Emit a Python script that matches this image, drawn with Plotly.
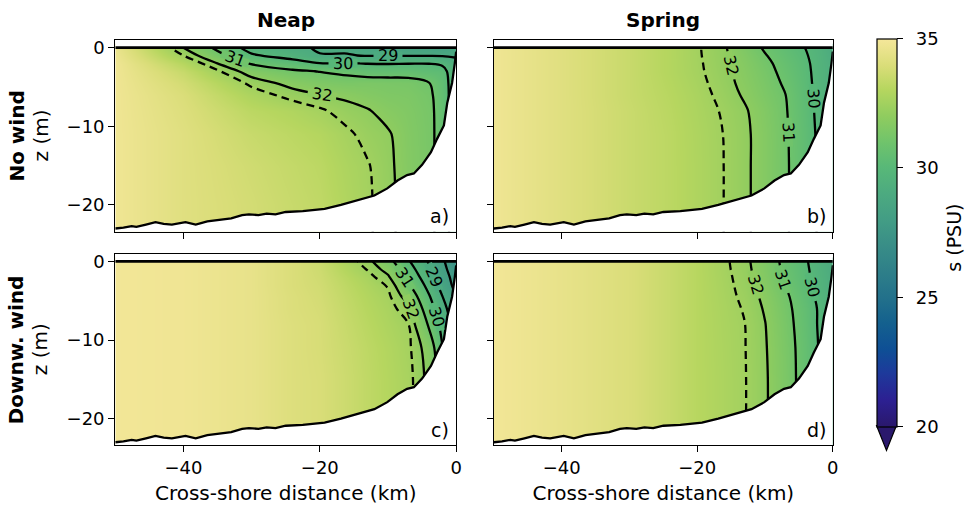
import math
import numpy as np
import plotly.graph_objects as go

# ---------------------------------------------------------------------------
# Data: salinity sections (PSU) on a cross-shore / depth grid
# ---------------------------------------------------------------------------
DIST_KM = [-50, -40, -30, -24, -20, -16, -13, -10, -7, -4, -2, 0]
DEPTH_M = [0, -1, -2, -3, -4.5, -6, -8, -11, -15, -20, -24]

# one row per depth in DEPTH_M, one value per distance in DIST_KM
SAL_NEAP_NOWIND = [
    [34.6, 32.0, 29.6, 29.1, 28.95, 28.85, 28.6, 28.5, 28.45, 28.4, 28.3, 28.7],
    [34.7, 32.5, 30.13, 29.6, 29.02, 29.05, 28.95, 28.95, 28.95, 28.95, 28.92, 28.9],
    [34.8, 33.1, 30.89, 30.41, 30.02, 30.05, 29.97, 29.95, 29.97, 29.98, 29.85, 29.25],
    [34.8, 33.5, 31.65, 31.14, 30.97, 30.8, 30.6, 30.6, 30.6, 30.4, 30.3, 29.35],
    [34.8, 33.8, 32.35, 31.76, 31.5, 31.36, 31.4, 31.35, 31.3, 31.03, 30.45, 29.4],
    [34.8, 34.0, 32.8, 32.27, 32.01, 31.85, 31.65, 31.5, 31.45, 31.2, 30.5, 29.4],
    [34.8, 34.1, 33.2, 32.9, 32.6, 32.23, 32.05, 31.75, 31.55, 31.27, 30.55, 29.4],
    [34.8, 34.2, 33.5, 33.2, 33.0, 32.62, 32.3, 32.08, 31.62, 31.3, 30.55, 29.4],
    [34.8, 34.2, 33.7, 33.4, 33.2, 32.8, 32.55, 32.15, 31.66, 31.3, 30.55, 29.4],
    [34.8, 34.2, 33.8, 33.5, 33.3, 32.9, 32.6, 32.2, 31.66, 31.3, 30.55, 29.4],
    [34.8, 34.2, 33.8, 33.5, 33.3, 32.95, 32.6, 32.2, 31.66, 31.3, 30.55, 29.4],
]

SAL_SPRING_NOWIND = [
    [34.8, 34.2, 33.5, 33.0, 32.57, 32.07, 31.48, 30.89, 30.44, 29.98, 29.6, 29.0],
    [34.8, 34.2, 33.5, 33.0, 32.58, 32.10, 31.6, 31.05, 30.56, 30.07, 29.65, 29.1],
    [34.8, 34.2, 33.5, 33.0, 32.6, 32.13, 31.68, 31.19, 30.68, 30.14, 29.7, 29.2],
    [34.8, 34.2, 33.5, 33.0, 32.62, 32.16, 31.74, 31.28, 30.76, 30.18, 29.72, 29.2],
    [34.8, 34.2, 33.5, 33.05, 32.68, 32.22, 31.81, 31.37, 30.89, 30.22, 29.75, 29.2],
    [34.8, 34.2, 33.5, 33.1, 32.75, 32.3, 31.91, 31.45, 31.01, 30.27, 29.78, 29.25],
    [34.8, 34.2, 33.55, 33.15, 32.8, 32.42, 32.08, 31.6, 31.07, 30.32, 29.8, 29.3],
    [34.8, 34.2, 33.55, 33.2, 32.85, 32.48, 32.14, 31.67, 31.11, 30.37, 29.85, 29.3],
    [34.8, 34.2, 33.55, 33.2, 32.87, 32.49, 32.14, 31.67, 31.13, 30.4, 29.9, 29.3],
    [34.8, 34.2, 33.55, 33.2, 32.87, 32.49, 32.14, 31.67, 31.13, 30.4, 29.9, 29.3],
    [34.8, 34.2, 33.55, 33.2, 32.87, 32.49, 32.14, 31.67, 31.13, 30.4, 29.9, 29.3],
]

SAL_NEAP_DOWNWIND = [
    [34.9, 34.8, 34.5, 34.0, 33.6, 32.8, 32.22, 31.33, 30.09, 28.92, 28.15, 27.2],
    [34.9, 34.8, 34.5, 34.0, 33.65, 32.97, 32.46, 31.74, 30.43, 29.13, 28.29, 27.4],
    [34.9, 34.8, 34.5, 34.0, 33.7, 33.14, 32.72, 32.11, 30.77, 29.38, 28.45, 27.6],
    [34.9, 34.8, 34.5, 34.0, 33.75, 33.24, 32.86, 32.44, 31.11, 29.68, 28.63, 27.7],
    [34.9, 34.8, 34.5, 34.05, 33.8, 33.33, 32.98, 32.63, 31.69, 30.1, 29.01, 28.01],
    [34.9, 34.8, 34.5, 34.05, 33.85, 33.4, 33.06, 32.73, 32.19, 30.44, 29.33, 28.3],
    [34.9, 34.8, 34.5, 34.1, 33.9, 33.47, 33.15, 32.82, 32.51, 30.88, 29.69, 28.5],
    [34.9, 34.8, 34.5, 34.1, 33.9, 33.55, 33.25, 32.95, 32.62, 31.65, 30.01, 28.7],
    [34.9, 34.8, 34.5, 34.1, 33.95, 33.6, 33.3, 33.0, 32.7, 31.8, 30.3, 29.01],
    [34.9, 34.8, 34.5, 34.1, 33.95, 33.6, 33.3, 33.0, 32.7, 31.8, 30.3, 29.01],
    [34.9, 34.8, 34.5, 34.1, 33.95, 33.6, 33.3, 33.0, 32.7, 31.8, 30.3, 29.01],
]

SAL_SPRING_DOWNWIND = [
    [34.9, 34.5, 34.0, 33.5, 33.1, 32.61, 32.18, 31.53, 30.77, 30.09, 29.55, 29.0],
    [34.9, 34.5, 34.0, 33.5, 33.1, 32.63, 32.21, 31.58, 30.82, 30.14, 29.6, 29.05],
    [34.9, 34.5, 34.0, 33.5, 33.1, 32.66, 32.25, 31.64, 30.88, 30.19, 29.65, 29.1],
    [34.9, 34.5, 34.0, 33.5, 33.1, 32.68, 32.3, 31.73, 30.98, 30.24, 29.7, 29.1],
    [34.9, 34.5, 34.0, 33.5, 33.1, 32.71, 32.37, 31.84, 31.16, 30.38, 29.8, 29.2],
    [34.9, 34.5, 34.0, 33.5, 33.1, 32.74, 32.45, 31.93, 31.25, 30.49, 29.9, 29.3],
    [34.9, 34.5, 34.0, 33.5, 33.1, 32.76, 32.51, 32.02, 31.33, 30.53, 29.9, 29.3],
    [34.9, 34.5, 34.0, 33.5, 33.1, 32.78, 32.52, 32.06, 31.4, 30.59, 29.95, 29.3],
    [34.9, 34.5, 34.0, 33.5, 33.1, 32.8, 32.53, 32.09, 31.44, 30.6, 29.95, 29.3],
    [34.9, 34.5, 34.0, 33.5, 33.1, 32.8, 32.53, 32.09, 31.44, 30.6, 29.95, 29.3],
    [34.9, 34.5, 34.0, 33.5, 33.1, 32.8, 32.53, 32.09, 31.44, 30.6, 29.95, 29.3],
]

# sea bed and sea surface
BATHY_X = [-50.0, -48.8, -47.6, -46.9, -45.5, -44.1, -42.9, -41.7, -39.7, -38.2,
           -36.5, -34.8, -33.0, -31.4, -30.4, -29.0, -27.8, -26.5, -25.0, -22.5,
           -19.3, -16.9, -14.5, -12.0, -10.1, -8.6, -7.2, -6.2, -5.0, -3.7,
           -2.8, -1.8, -1.3, -0.6, -0.2, 0.0]
BATHY_Z = [-23.0, -22.9, -22.7, -22.8, -22.5, -22.2, -22.4, -22.5, -22.2, -22.5,
           -22.1, -21.9, -21.7, -21.3, -21.2, -21.3, -21.1, -21.2, -20.9, -20.8,
           -20.5, -20.0, -19.4, -18.8, -17.9, -16.9, -16.2, -16.0, -14.9, -13.3,
           -11.6, -9.9, -7.0, -4.5, -2.0, -0.5]
SURFACE_X = [-50.0, 0.0]
SURFACE_Z = [0.0, 0.0]

ISOHALINES = dict(start=28, end=32, size=1)
PLUME_EDGE = 32.5

# inline contour labels: (panel, isohaline, coordinate solved for, the other coordinate)
CONTOUR_LABELS = [
    (0, 29, "z", -10.0), (0, 30, "z", -16.6), (0, 31, "z", -32.5), (0, 32, "z", -19.7),
    (1, 32, "x", -2.2), (1, 31, "x", -10.8), (1, 30, "x", -6.5),
    (2, 31, "x", -2.0), (2, 29, "x", -2.0), (2, 32, "x", -6.0), (2, 30, "x", -7.0),
    (3, 32, "x", -3.0), (3, 31, "x", -2.3), (3, 30, "x", -3.3),
]

COLUMN_TITLES = ["Neap", "Spring"]
ROW_TITLES = ["No wind", "Downw. wind"]
PANEL_TAGS = ["a)", "b)", "c)", "d)"]
X_TICKS = [-40, -20, 0]
Z_TICKS = [-20, -10, 0]
CBAR_TICKS = [20, 25, 30, 35]
S_MIN, S_MAX = 20, 35

# ---------------------------------------------------------------------------
# Styling
# ---------------------------------------------------------------------------
FONT = "DejaVu Sans"
W, H = 972, 511
TICK_SIZE = 18
LABEL_SIZE = 20
CLABEL_SIZE = 16

HALINE = [
    [0.00, "#2a186c"], [0.07, "#2c2092"], [0.14, "#1d3a9b"], [0.20, "#0e4f95"],
    [0.27, "#14618e"], [0.33, "#22708b"], [0.40, "#2e7f89"], [0.47, "#398e87"],
    [0.53, "#429c85"], [0.60, "#4caa80"], [0.67, "#58b878"], [0.73, "#6ec36c"],
    [0.80, "#8fcc5f"], [0.87, "#b6d65f"], [0.93, "#d9dd78"], [1.00, "#f5e79a"],
]

X_DOM = [[116 / W, 459 / W], [497 / W, 838 / W]]
Y_DOM = [[1 - 230 / H, 1 - 37 / H], [1 - 445 / H, 1 - 252 / H]]
X_RANGE = [-50, 0]
Z_RANGE = [-23.4, 1.0]
FLOOR, SKY = -40.0, 5.0

PX_PER_KM = (X_DOM[0][1] - X_DOM[0][0]) * W / (X_RANGE[1] - X_RANGE[0])
PX_PER_M = (Y_DOM[0][1] - Y_DOM[0][0]) * H / (Z_RANGE[1] - Z_RANGE[0])


def minus(v):
    return str(v).replace("-", "\u2212")


def scale_color(value):
    t = min(max((value - S_MIN) / (S_MAX - S_MIN), 0.0), 1.0)
    for (t0, c0), (t1, c1) in zip(HALINE[:-1], HALINE[1:]):
        if t0 <= t <= t1:
            f = (t - t0) / (t1 - t0)
            a = [int(c0[k:k + 2], 16) for k in (1, 3, 5)]
            b = [int(c1[k:k + 2], 16) for k in (1, 3, 5)]
            rgb = [round(a[k] + f * (b[k] - a[k])) for k in range(3)]
            return "rgb({},{},{})".format(*rgb)
    return HALINE[-1][1]


def field_at(sal, x, z):
    """Bilinear value of a section at (x km, z m)."""
    zs = np.array(DEPTH_M[::-1], float)
    grid = np.array(sal, float)[::-1]
    column = np.array([np.interp(z, zs, grid[:, j]) for j in range(len(DIST_KM))])
    return float(np.interp(x, DIST_KM, column))


def first_crossing(coords, values, level):
    for k in range(len(coords) - 1):
        a, b = values[k] - level, values[k + 1] - level
        if a == 0:
            return coords[k]
        if a * b < 0:
            return coords[k] + a / (a - b) * (coords[k + 1] - coords[k])
    return None


def label_point(sal, level, solve, known):
    if solve == "x":
        z = known
        xs = list(np.linspace(X_RANGE[0], X_RANGE[1], 501))
        x = first_crossing(xs, [field_at(sal, xx, z) for xx in xs], level)
    else:
        x = known
        zs = list(np.linspace(0, -24, 481))
        z = first_crossing(zs, [field_at(sal, x, zz) for zz in zs], level)
    # orientation of the isohaline on screen (clockwise degrees)
    h = 0.05
    du = (field_at(sal, x + h, z) - field_at(sal, x - h, z)) / (2 * h * PX_PER_KM)
    dv = (field_at(sal, x, z - h) - field_at(sal, x, z + h)) / (2 * h * PX_PER_M)
    tu, tv = dv, -du
    if tu < 0 or (abs(tu) < 1e-12 and tv < 0):
        tu, tv = -tu, -tv
    return x, z, math.degrees(math.atan2(tv, tu))


fig = go.Figure()

sections = [SAL_NEAP_NOWIND, SAL_SPRING_NOWIND, SAL_NEAP_DOWNWIND, SAL_SPRING_DOWNWIND]
line_style = dict(color="black", width=2.3, smoothing=1.0)
for i, sal in enumerate(sections):
    xa = "x" if i == 0 else f"x{i + 1}"
    ya = "y" if i == 0 else f"y{i + 1}"
    common = dict(xaxis=xa, yaxis=ya, hoverinfo="skip", showlegend=False)

    fig.add_trace(go.Heatmap(x=DIST_KM, y=DEPTH_M, z=sal, zsmooth="best",
                             coloraxis="coloraxis", **common))
    fig.add_trace(go.Contour(
        x=DIST_KM, y=DEPTH_M, z=sal, autocontour=False, showscale=False,
        contours=dict(**ISOHALINES, coloring="none", showlabels=False),
        line=line_style, **common))
    fig.add_trace(go.Contour(
        x=DIST_KM, y=DEPTH_M, z=sal, autocontour=False, showscale=False,
        contours=dict(start=PLUME_EDGE, end=PLUME_EDGE + 0.5, size=1,
                      coloring="none", showlabels=False),
        line=dict(line_style, dash="8px,5px"), **common))

    # white seabed below the bathymetry line
    fig.add_trace(go.Scatter(x=[BATHY_X[0], BATHY_X[-1]], y=[FLOOR, FLOOR],
                             mode="lines", line=dict(width=0), **common))
    fig.add_trace(go.Scatter(x=BATHY_X, y=BATHY_Z, mode="lines",
                             line=dict(color="black", width=2.3),
                             fill="tonexty", fillcolor="white", **common))
    # white band above the sea surface
    fig.add_trace(go.Scatter(x=SURFACE_X, y=[SKY, SKY], mode="lines",
                             line=dict(width=0), **common))
    fig.add_trace(go.Scatter(x=SURFACE_X, y=SURFACE_Z, mode="lines",
                             line=dict(color="black", width=2.8),
                             fill="tonexty", fillcolor="white", **common))

axis_common = dict(showline=True, linecolor="black", linewidth=1.2, mirror=True,
                   ticks="outside", ticklen=6, tickwidth=1.2, tickcolor="black",
                   showgrid=False, zeroline=False,
                   tickfont=dict(family=FONT, size=TICK_SIZE, color="black"))

layout = dict(
    width=W, height=H, margin=dict(l=0, r=0, t=0, b=0),
    paper_bgcolor="white", plot_bgcolor="white", showlegend=False,
    font=dict(family=FONT, size=TICK_SIZE, color="black"),
    coloraxis=dict(
        colorscale=HALINE, cmin=S_MIN, cmax=S_MAX,
        colorbar=dict(
            x=882 / W, xanchor="left", xpad=0,
            y=1 - 231 / H, yanchor="middle", ypad=0,
            len=388, lenmode="pixels", thickness=20, thicknessmode="pixels",
            outlinewidth=1.2, outlinecolor="black",
            ticks="outside", ticklen=6, tickwidth=1.2, tickcolor="black",
            tickvals=CBAR_TICKS, ticktext=["\u2002" + str(t) for t in CBAR_TICKS],
            tickfont=dict(family=FONT, size=TICK_SIZE, color="black"),
        ),
    ),
)

for i in range(4):
    row, col = divmod(i, 2)
    key = "" if i == 0 else str(i + 1)
    xa = dict(axis_common, domain=X_DOM[col], range=X_RANGE,
              tickvals=X_TICKS, ticktext=[minus(t) for t in X_TICKS],
              showticklabels=(row == 1), anchor="y" + key)
    if row == 1:
        xa["title"] = dict(text="Cross-shore distance (km)", standoff=8,
                           font=dict(family=FONT, size=LABEL_SIZE, color="black"))
    ya = dict(axis_common, domain=Y_DOM[row], range=Z_RANGE,
              tickvals=Z_TICKS, ticktext=[minus(t) for t in Z_TICKS],
              showticklabels=(col == 0), anchor="x" + key)
    layout["xaxis" + key] = xa
    layout["yaxis" + key] = ya

annotations = []
for col, title in enumerate(COLUMN_TITLES):
    annotations.append(dict(text=f"<b>{title}</b>", xref="paper", yref="paper",
                            x=sum(X_DOM[col]) / 2, y=1 - 17 / H,
                            xanchor="center", yanchor="middle", showarrow=False,
                            font=dict(family=FONT, size=LABEL_SIZE, color="black")))
for row, title in enumerate(ROW_TITLES):
    yc = sum(Y_DOM[row]) / 2
    annotations.append(dict(text=f"<b>{title}</b>", xref="paper", yref="paper",
                            x=17 / W, y=yc, textangle=-90,
                            xanchor="center", yanchor="middle", showarrow=False,
                            font=dict(family=FONT, size=LABEL_SIZE, color="black")))
    annotations.append(dict(text="z (m)", xref="paper", yref="paper",
                            x=41 / W, y=yc, textangle=-90,
                            xanchor="center", yanchor="middle", showarrow=False,
                            font=dict(family=FONT, size=LABEL_SIZE, color="black")))
for i, tag in enumerate(PANEL_TAGS):
    key = "" if i == 0 else str(i + 1)
    annotations.append(dict(text=tag, xref=f"x{key} domain", yref=f"y{key} domain",
                            x=0.985, y=0.015, xanchor="right", yanchor="bottom",
                            showarrow=False,
                            font=dict(family=FONT, size=TICK_SIZE + 1, color="black")))

# inline isohaline labels: a thin strip in the isohaline's own colour opens a
# gap in the line, and the number is written on top of it
for panel, level, solve, known in CONTOUR_LABELS:
    key = "" if panel == 0 else str(panel + 1)
    x, z, ang = label_point(sections[panel], level, solve, known)
    text = str(level)
    gap = round(len(text) * 0.64 * CLABEL_SIZE + 8)
    place = dict(x=x, y=z, xref="x" + key, yref="y" + key, textangle=ang,
                 showarrow=False, xanchor="center", yanchor="middle")
    annotations.append(dict(place, text="\u00a0", width=gap, height=7, borderpad=0,
                            bgcolor=scale_color(level),
                            font=dict(family=FONT, size=4, color="rgba(0,0,0,0)")))
    annotations.append(dict(place, text=text,
                            font=dict(family=FONT, size=CLABEL_SIZE, color="black")))

# colour bar title
annotations.append(dict(text="s (PSU)", xref="paper", yref="paper",
                        x=960 / W, y=1 - 236 / H, textangle=-90,
                        xanchor="center", yanchor="middle", showarrow=False,
                        font=dict(family=FONT, size=LABEL_SIZE - 1, color="black")))
layout["annotations"] = annotations

# "extend min" triangle below the colour bar
x0, x1 = 882 / W, 902 / W
yb, yt = 1 - 425 / H, 1 - 450 / H
layout["shapes"] = [dict(type="path", xref="paper", yref="paper",
                         path=f"M {x0},{yb} L {x1},{yb} L {(x0 + x1) / 2},{yt} Z",
                         fillcolor=HALINE[0][1], line=dict(color="black", width=1.2))]

fig.update_layout(**layout)
fig.write_html("out.html")
